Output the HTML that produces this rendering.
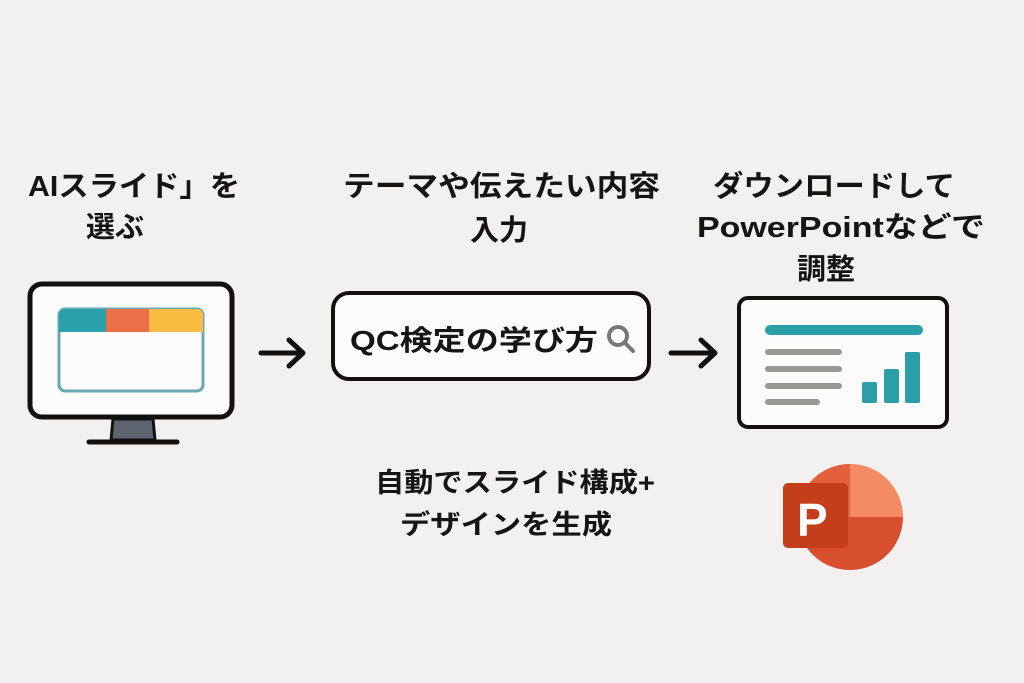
<!DOCTYPE html>
<html><head><meta charset="utf-8"><style>
html,body{margin:0;padding:0;background:#f2f1ef;}
svg{display:block}
text{font-family:"Liberation Sans","Noto Sans CJK JP",sans-serif;font-weight:bold;fill:#151515;}
</style></head><body>
<svg width="1024" height="683" viewBox="0 0 1024 683" xmlns="http://www.w3.org/2000/svg">
<rect width="1024" height="683" fill="#f2f1ef"/>
<!-- labels -->
<text x="28" y="196" font-size="29" textLength="212" lengthAdjust="spacingAndGlyphs">AIスライド」を</text>
<text x="86" y="237" font-size="29">選ぶ</text>
<text x="343" y="196" font-size="29" textLength="317" lengthAdjust="spacingAndGlyphs">テーマや伝えたい内容</text>
<text x="470" y="240" font-size="29">入力</text>
<text x="713" y="196" font-size="29" textLength="242" lengthAdjust="spacingAndGlyphs">ダウンロードして</text>
<text x="697" y="237" font-size="29" textLength="288" lengthAdjust="spacingAndGlyphs">PowerPointなどで</text>
<text x="797" y="279" font-size="29">調整</text>
<text x="375" y="492" font-size="27" textLength="280" lengthAdjust="spacingAndGlyphs">自動でスライド構成+</text>
<text x="400" y="534" font-size="27" textLength="212" lengthAdjust="spacingAndGlyphs">デザインを生成</text>
<!-- monitor -->
<rect x="30" y="284" width="202" height="133" rx="12" fill="#fbfbf9" stroke="#111" stroke-width="5"/>
<rect x="59" y="309" width="144" height="82" rx="6" fill="#fbfbf9" stroke="#6aa8b3" stroke-width="3"/>
<path d="M59 332 V315 a6 6 0 0 1 6-6 H106 V332 Z" fill="#2aa0ad"/>
<rect x="106" y="309" width="43" height="23" fill="#ec6f48"/>
<path d="M149 309 H197 a6 6 0 0 1 6 6 V332 H149 Z" fill="#fbbd41"/>
<path d="M113 419 H153 L155 440 H111 Z" fill="#5d6470" stroke="#111" stroke-width="3"/>
<line x1="89" y1="442" x2="177" y2="442" stroke="#111" stroke-width="5" stroke-linecap="round"/>
<!-- arrows -->
<g stroke="#111" stroke-width="5" stroke-linecap="round" stroke-linejoin="round" fill="none">
<path d="M261 353 H302 M289 340 L303 353 L289 366"/>
<path d="M671 353 H714 M701 340 L715 353 L701 366"/>
</g>
<!-- search box -->
<rect x="333" y="293" width="316" height="86" rx="16" fill="#fbfbf9" stroke="#111" stroke-width="4"/>
<text x="350" y="350" font-size="28" textLength="248" lengthAdjust="spacingAndGlyphs">QC検定の学び方</text>
<circle cx="618" cy="336" r="9" fill="none" stroke="#777" stroke-width="4"/>
<line x1="625" y1="343" x2="633" y2="351" stroke="#777" stroke-width="4" stroke-linecap="round"/>
<!-- slide -->
<rect x="739" y="298" width="208" height="129" rx="9" fill="#fbfbf9" stroke="#111" stroke-width="4"/>
<line x1="770" y1="330" x2="918" y2="330" stroke="#2a9ea9" stroke-width="10" stroke-linecap="round"/>
<g stroke="#999" stroke-width="6" stroke-linecap="round">
<line x1="768" y1="352" x2="839" y2="352"/>
<line x1="768" y1="369" x2="839" y2="369"/>
<line x1="768" y1="386" x2="839" y2="386"/>
<line x1="768" y1="402" x2="817" y2="402"/>
</g>
<g fill="#2a9ea9">
<rect x="862" y="382" width="15" height="21" rx="2"/>
<rect x="884" y="369" width="15" height="34" rx="2"/>
<rect x="905" y="352" width="15" height="51" rx="2"/>
</g>
<!-- ppt icon -->
<path d="M850 517 V464 A53 53 0 0 1 903 517 Z" fill="#f58b63"/>
<path d="M850 517 H903 A53 53 0 0 1 850 570 A53 53 0 0 1 797 517 Z" fill="#d84f2e"/>
<path d="M850 517 H797 A53 53 0 0 1 850 464 Z" fill="#e4603c"/>
<rect x="783" y="483" width="65" height="65" rx="5" fill="#c43e1c"/>
<text x="797" y="536" font-size="46" style="fill:#fff">P</text>
</svg>
</body></html>
